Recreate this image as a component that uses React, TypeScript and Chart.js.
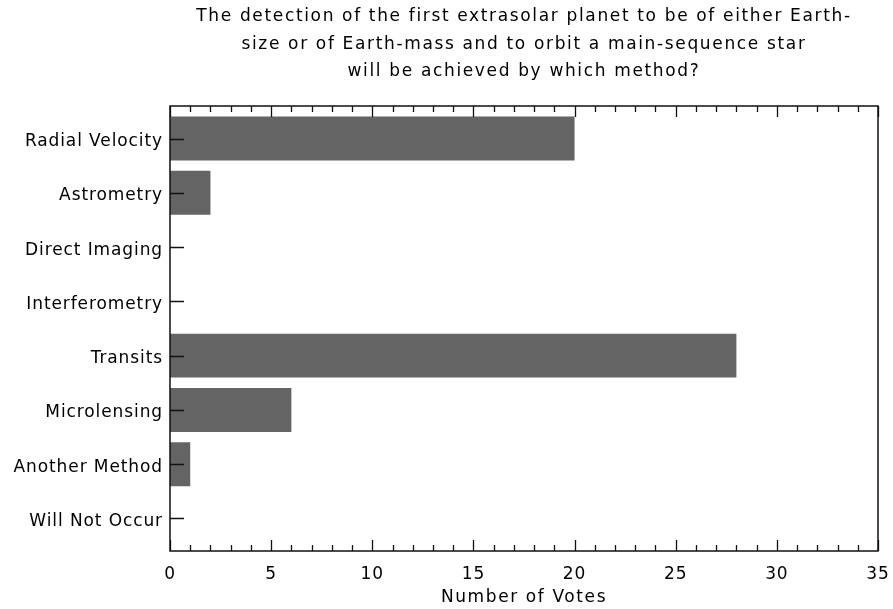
import { useEffect, useRef } from "react";
import { Chart, registerables } from "chart.js";

Chart.register(...registerables);

const categories = [
  "Radial Velocity",
  "Astrometry",
  "Direct Imaging",
  "Interferometry",
  "Transits",
  "Microlensing",
  "Another Method",
  "Will Not Occur",
];
const votes = [20, 2, 0, 0, 28, 6, 1, 0];
const xMin = 0;
const xMax = 35;
const xMajorStep = 5;
const xMinorStep = 1;
const titleLines = [
  "The detection of the first extrasolar planet to be of either Earth-",
  "size or of Earth-mass and to orbit a main-sequence star",
  "will be achieved by which method?",
];
const xTitle = "Number of Votes";

const FONT_FAMILY = '"DejaVu Sans", sans-serif';
const FONT_SIZE = 17;
const INK = "#000000";
const BAR = "#646464";

const idlPlugin = {
  id: "idlFrame",
  beforeDraw(chart: any) {
    (chart.ctx as any).letterSpacing = "0.9px";
  },
  afterDraw(chart: any) {
    const { ctx, chartArea } = chart;
    const xs = chart.scales.x;
    const ys = chart.scales.y;
    const { left, right, top, bottom } = chartArea;
    ctx.save();
    ctx.strokeStyle = "#111111";
    ctx.lineWidth = 1.5;
    ctx.strokeRect(left, top, right - left, bottom - top);
    ctx.lineWidth = 1.3;
    ctx.beginPath();
    for (let v = xMin; v <= xMax; v += xMinorStep) {
      const px = Math.round(xs.getPixelForValue(v)) + 0.5;
      const len = v % xMajorStep === 0 ? 11 : 6;
      ctx.moveTo(px, bottom);
      ctx.lineTo(px, bottom - len);
      ctx.moveTo(px, top);
      ctx.lineTo(px, top + len);
    }
    categories.forEach((_, i) => {
      const py = Math.round(ys.getPixelForValue(i)) + 0.5;
      ctx.moveTo(left, py);
      ctx.lineTo(left + 14, py);
    });
    ctx.stroke();

    ctx.fillStyle = INK;
    ctx.font = `${FONT_SIZE}px ${FONT_FAMILY}`;
    ctx.textAlign = "center";
    ctx.textBaseline = "middle";
    const cx = (left + right) / 2;
    (ctx as any).letterSpacing = "1.65px";
    titleLines.forEach((line, i) => {
      ctx.fillText(line, cx, 17 + i * 27.5);
    });
    (ctx as any).letterSpacing = "1.6px";
    ctx.fillText(xTitle, cx, 598);
    ctx.restore();
  },
};

export default function App() {
  const canvasRef = useRef<HTMLCanvasElement | null>(null);

  useEffect(() => {
    if (!canvasRef.current) return;
    const chart = new Chart(canvasRef.current, {
      type: "bar",
      data: {
        datasets: [
          {
            data: votes.map((v, i) => ({ x: v, y: i })),
            backgroundColor: BAR,
            borderWidth: 0,
            categoryPercentage: 1,
            barPercentage: 0.81,
          } as any,
        ],
      },
      options: {
        indexAxis: "y",
        animation: false,
        responsive: true,
        maintainAspectRatio: false,
        layout: { padding: { top: 106, right: 15, left: 0, bottom: 0 } },
        plugins: {
          legend: { display: false },
          tooltip: { enabled: false },
          title: { display: false },
        },
        scales: {
          x: {
            type: "linear",
            position: "bottom",
            min: xMin,
            max: xMax,
            offset: false,
            grid: { display: false, drawTicks: false },
            border: { display: false },
            ticks: {
              stepSize: xMajorStep,
              color: INK,
              font: { family: FONT_FAMILY, size: FONT_SIZE },
              padding: 13,
              maxRotation: 0,
            },
            afterFit(scale: any) {
              scale.height = 58;
              scale.paddingLeft = 0;
              scale.paddingRight = 0;
            },
          },
          y: {
            type: "linear",
            position: "left",
            min: -0.6,
            max: 7.6,
            reverse: true,
            offset: false,
            grid: { display: false, drawTicks: false },
            border: { display: false },
            afterBuildTicks(scale: any) {
              scale.ticks = categories.map((_, i) => ({ value: i }));
            },
            ticks: {
              autoSkip: false,
              color: INK,
              font: { family: FONT_FAMILY, size: FONT_SIZE },
              padding: 7,
              labelOffset: 3,
              callback: (v: any) => categories[Number(v)] ?? "",
            },
            afterFit(scale: any) {
              scale.width = 170;
              scale.paddingTop = 0;
              scale.paddingBottom = 0;
            },
          },
        },
      },
      plugins: [idlPlugin],
    });
    return () => chart.destroy();
  }, []);

  return (
    <div
      style={{
        position: "absolute",
        left: 0,
        top: 0,
        width: 893,
        height: 609,
        background: "#ffffff",
      }}
    >
      <canvas ref={canvasRef} style={{ display: "block" }} />
    </div>
  );
}
